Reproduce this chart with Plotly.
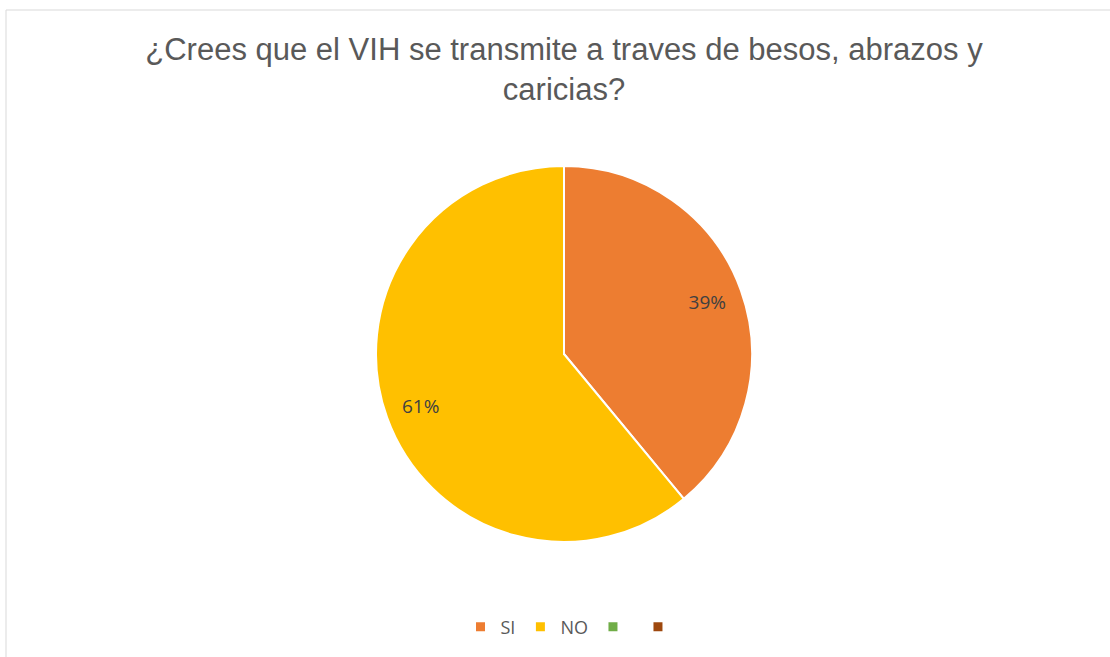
import plotly.graph_objects as go

labels = ["SI", "NO", " ", "  "]
legend_names = ["SI", "NO", "", ""]
values = [39, 61, 0, 0]
text_labels = ["39%", "61%", "", ""]
colors = ["#ED7D31", "#FFC000", "#70AD47", "#9E480E"]

W, H = 1110, 657
cx, cy, r = 564, 354, 188
dom = dict(x=[(cx - r) / W, (cx + r) / W], y=[1 - (cy + r) / H, 1 - (cy - r) / H])

fig = go.Figure()
fig.add_trace(go.Pie(
    labels=labels, values=values, textinfo="none",
    marker=dict(colors=colors, line=dict(color="white", width=2)),
    sort=False, direction="clockwise", rotation=0,
    domain=dom, hoverinfo="label+percent", showlegend=False,
))
# transparent ring used only to place the data labels further out
fig.add_trace(go.Pie(
    labels=labels, values=values, text=text_labels,
    textinfo="text", textposition="inside", hole=0.62,
    insidetextorientation="horizontal",
    insidetextfont=dict(family="Open Sans", size=19, color="#404040"),
    marker=dict(colors=["rgba(0,0,0,0)"] * 4, line=dict(width=0)),
    sort=False, direction="clockwise", rotation=0,
    domain=dom, showlegend=False, hoverinfo="skip",
))
# legend entries (small square markers, like the original)
for lab, col in zip(legend_names, colors):
    fig.add_trace(go.Scatter(
        x=[None], y=[None], mode="markers", name=lab,
        marker=dict(symbol="square", size=9, color=col),
        showlegend=True, hoverinfo="skip",
    ))

fig.update_layout(
    width=W, height=H,
    margin=dict(l=0, r=0, t=0, b=0),
    paper_bgcolor="white", plot_bgcolor="white",
    xaxis=dict(visible=False), yaxis=dict(visible=False),
    title=dict(
        text="¿Crees que el VIH se transmite a traves de besos, abrazos y<br>caricias?",
        x=564 / W, xanchor="center", y=1 - 60 / H, yanchor="middle",
        font=dict(family="Liberation Sans", size=31, color="#595959"),
    ),
    legend=dict(
        orientation="h", x=572 / W, xanchor="center", y=1 - 627 / H, yanchor="middle",
        font=dict(family="Open Sans", size=18, color="#595959"),
        traceorder="normal", itemwidth=30,
    ),
    shapes=[dict(type="rect", xref="paper", yref="paper",
                 x0=6 / W, x1=1.02, y0=-0.02, y1=1 - 10 / H,
                 line=dict(color="#D9D9D9", width=1), fillcolor="rgba(0,0,0,0)")],
)

fig.write_html("out.html", config={"displayModeBar": False},
               post_script="document.body.style.margin='0px';")
